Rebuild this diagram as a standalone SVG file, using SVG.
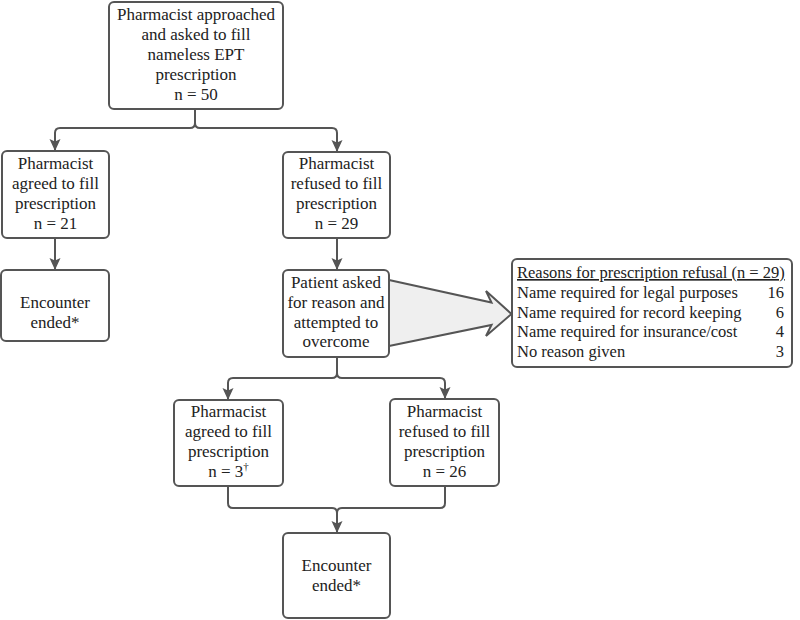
<svg xmlns="http://www.w3.org/2000/svg" width="800" height="620" viewBox="0 0 800 620">
<defs>
<style>
.box{fill:#fff;stroke:#555;stroke-width:2}
text{font-family:'Liberation Serif','Times New Roman',serif;fill:#222}
.t{font-size:17px;text-anchor:middle}
.r{font-size:16.5px}
.c{fill:none;stroke:#555;stroke-width:2}
</style>
<marker id="ah" markerUnits="userSpaceOnUse" markerWidth="12" markerHeight="12" viewBox="0 0 12 12" refX="11" refY="6" orient="auto">
<path d="M0,0.5 L12,6 L0,11.5 L2.5,6 z" fill="#555"/>
</marker>
</defs>
<rect width="800" height="620" fill="#fff"/>
<g id="connectors">
<path class="c" d="M195,109 V123 Q195,128 190,128 H60 Q55,128 55,133 V150" marker-end="url(#ah)"/>
<path class="c" d="M195,123 Q195,128 200,128 H332 Q337,128 337,133 V151" marker-end="url(#ah)"/>
<path class="c" d="M55,238 V269" marker-end="url(#ah)"/>
<path class="c" d="M337,238 V269" marker-end="url(#ah)"/>
<path class="c" d="M337,357 V373 Q337,378 332,378 H233 Q228,378 228,383 V399" marker-end="url(#ah)"/>
<path class="c" d="M337,373 Q337,378 342,378 H440 Q445,378 445,383 V398" marker-end="url(#ah)"/>
<path class="c" d="M228,486 V503 Q228,508 233,508 H332 Q337,508 337,513 V532" marker-end="url(#ah)"/>
<path class="c" d="M445,486 V503 Q445,508 440,508 H342 Q337,508 337,513"/>
<polygon points="389,280 491.5,302.5 486,291 511.5,314 486,336 491.5,325 389,346" fill="#efefef"/>
<polyline class="c" points="389,280 491.5,302.5 486,291 511.5,314 486,336 491.5,325 389,346" stroke-linejoin="miter"/>
</g>
<g id="n_start">
<rect class="box" x="109" y="2" width="174" height="107" rx="5"/>
<text class="t" x="196" y="20">Pharmacist approached</text>
<text class="t" x="196" y="40">and asked to fill</text>
<text class="t" x="196" y="60">nameless EPT</text>
<text class="t" x="196" y="80">prescription</text>
<text class="t" x="196" y="100">n = 50</text>
</g>
<g id="n_agreed1">
<rect class="box" x="2" y="151" width="107" height="87" rx="5"/>
<text class="t" x="55.5" y="169">Pharmacist</text>
<text class="t" x="55.5" y="189">agreed to fill</text>
<text class="t" x="55.5" y="209">prescription</text>
<text class="t" x="55.5" y="229">n = 21</text>
</g>
<g id="n_refused1">
<rect class="box" x="283" y="152" width="107" height="86" rx="5"/>
<text class="t" x="336.5" y="169">Pharmacist</text>
<text class="t" x="336.5" y="189">refused to fill</text>
<text class="t" x="336.5" y="209">prescription</text>
<text class="t" x="336.5" y="229">n = 29</text>
</g>
<g id="n_end1">
<rect class="box" x="1" y="270" width="108" height="71" rx="5"/>
<text class="t" x="55" y="308">Encounter</text>
<text class="t" x="55" y="328">ended*</text>
</g>
<g id="n_patient">
<rect class="box" x="283" y="270" width="106" height="87" rx="5"/>
<text class="t" x="336" y="288">Patient asked</text>
<text class="t" x="336" y="308">for reason and</text>
<text class="t" x="336" y="328">attempted to</text>
<text class="t" x="336" y="347">overcome</text>
</g>
<g id="n_reasons">
<rect class="box" x="512" y="259" width="280" height="108" rx="5"/>
<text class="r" x="517" y="278" text-decoration="underline">Reasons for prescription refusal (n = 29)</text>
<text class="r" x="517" y="298">Name required for legal purposes</text>
<text class="r" x="517" y="317.5">Name required for record keeping</text>
<text class="r" x="517" y="337">Name required for insurance/cost</text>
<text class="r" x="517" y="356.5">No reason given</text>
<text class="r" x="784" y="298" text-anchor="end">16</text>
<text class="r" x="784" y="317.5" text-anchor="end">6</text>
<text class="r" x="784" y="337" text-anchor="end">4</text>
<text class="r" x="784" y="356.5" text-anchor="end">3</text>
</g>
<g id="n_agreed2">
<rect class="box" x="174" y="400" width="109" height="86" rx="5"/>
<text class="t" x="228.5" y="417">Pharmacist</text>
<text class="t" x="228.5" y="437">agreed to fill</text>
<text class="t" x="228.5" y="457">prescription</text>
<text class="t" x="228.5" y="477">n = 3<tspan font-size="11" dy="-7">†</tspan></text>
</g>
<g id="n_refused2">
<rect class="box" x="390" y="399" width="109" height="87" rx="5"/>
<text class="t" x="444.5" y="417">Pharmacist</text>
<text class="t" x="444.5" y="437">refused to fill</text>
<text class="t" x="444.5" y="457">prescription</text>
<text class="t" x="444.5" y="477">n = 26</text>
</g>
<g id="n_end2">
<rect class="box" x="283" y="533" width="107" height="85" rx="5"/>
<text class="t" x="336.5" y="571">Encounter</text>
<text class="t" x="336.5" y="591">ended*</text>
</g>
</svg>
